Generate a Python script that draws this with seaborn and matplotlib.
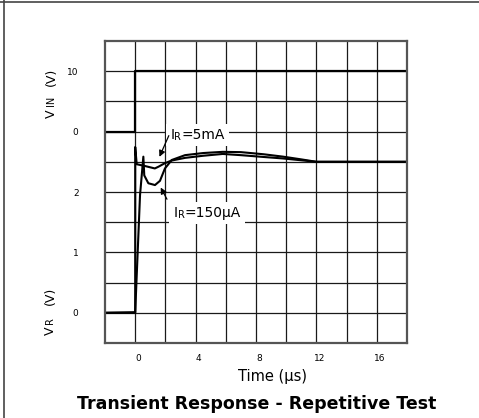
import numpy as np
import pandas as pd
import seaborn as sns
import matplotlib
matplotlib.use("Agg")
from matplotlib import pyplot as plt
from matplotlib import transforms
from matplotlib.lines import Line2D

# grid units: x in microseconds, y in scope divisions (0..10)
t_vin = [-2, 0, 0, 18]
v_vin = [7, 7, 9, 9]

t_5ma = [-2, 0, 0, 0.1, 0.65, 1.3, 1.55, 1.95, 2.4, 3.3, 4.5, 5.8, 7.0, 8.5, 9.8, 11.0, 12.0, 18]
v_5ma = [1, 1, 6.49, 5.92, 5.86, 5.78, 5.84, 5.95, 6.04, 6.13, 6.2, 6.26, 6.22, 6.16, 6.11, 6.05, 6.0, 6.0]

t_150 = [-2, 0, 0.32, 0.54, 0.6, 0.87, 1.31, 1.64, 1.97, 2.42, 3.3, 4.5, 5.8, 7.0, 8.5, 9.8, 11.0, 12.0, 18]
v_150 = [1, 1.02, 4.9, 6.17, 5.55, 5.29, 5.23, 5.37, 5.78, 6.06, 6.22, 6.29, 6.33, 6.32, 6.25, 6.17, 6.08, 6.0, 6.0]

x_ticks = [0, 2, 4, 6, 8, 10, 12, 14, 16]
x_labels = ["0", "", "4", "", "8", "", "12", "", "16"]
y_ticks = [1, 2, 3, 4, 5, 6, 7, 8, 9]
y_labels = ["0", "", "1", "", "2", "", "0", "", "10"]

sns.set_style("white")
plt.rcParams["font.family"] = ["DejaVu Sans"]
plt.rcParams.update({"text.color": "black", "xtick.color": "black", "ytick.color": "black"})

fig = plt.figure(figsize=(4.79, 4.18), dpi=100)
ax = fig.add_axes([105 / 479, 1 - 343 / 418, 302 / 479, 302 / 418])

# traces
sns.lineplot(x=t_vin, y=v_vin, estimator=None, sort=False, color="black", lw=1.6, ax=ax)
sns.lineplot(x=t_150, y=v_150, estimator=None, sort=False, color="black", lw=1.5, ax=ax)
sns.lineplot(x=t_5ma, y=v_5ma, estimator=None, sort=False, color="black", lw=1.5, ax=ax)

ax.set_xlim(-2, 18)
ax.set_ylim(0, 10)
ax.set_xticks(x_ticks)
ax.set_xticklabels(x_labels, fontsize=6.5)
ax.set_yticks(y_ticks)
ax.set_yticklabels(y_labels, fontsize=6.5)
ax.tick_params(axis="x", length=0, pad=8)
ax.tick_params(axis="y", length=0, pad=19)
shift = transforms.ScaledTranslation(3 / 100, 0, fig.dpi_scale_trans)
for lab in ax.get_xticklabels():
    lab.set_transform(lab.get_transform() + shift)
ax.grid(True, color="#1a1a1a", lw=0.9)
ax.set_axisbelow(True)
for sp in ax.spines.values():
    sp.set_color("#555555")
    sp.set_linewidth(1.6)
ax.set_xlabel("")
ax.set_ylabel("")


def pieced_label(x, y, parts):
    # first pass: white boxes only, second pass: the glyphs on top
    box = dict(boxstyle="square,pad=0.3", fc="white", ec="none")
    for with_box in (True, False):
        prev = None
        for txt, fs in parts:
            kw = dict(fontsize=fs, ha="left", zorder=3 if with_box else 4)
            if with_box:
                kw.update(bbox=box, color="white")
            if prev is None:
                prev = ax.text(x, y, txt, va="baseline", **kw)
            else:
                prev = ax.annotate(txt, xy=(1, 0), xycoords=prev, va="bottom", **kw)


pieced_label(2.32, 6.75, [("I", 10), ("R", 7), ("=5mA", 10)])
pieced_label(2.54, 4.17, [("I", 10), ("R", 7), ("=150\u00b5A", 10)])

arrow = dict(arrowstyle="-|>", color="black", lw=0.9, mutation_scale=9)
ax.annotate("", xy=(1.53, 6.08), xytext=(2.3, 6.95), arrowprops=arrow, zorder=5)
ax.annotate("", xy=(1.6, 5.23), xytext=(2.19, 4.68), arrowprops=arrow, zorder=5)


# rotated axis labels built from pieces
def fx(px):
    return px / 479


def fy(py):
    return 1 - py / 418


for txt, px, py, fs in [("V", 51, 113.5, 9), ("IN", 51, 100.5, 7), ("(V)", 51, 77, 9),
                        ("V", 50, 331, 9), ("R", 50, 321, 7), ("(V)", 50, 296, 9)]:
    fig.text(fx(px), fy(py), txt, rotation=90, fontsize=fs, ha="center", va="center")

fig.text(fx(272), fy(377), "Time (\u00b5s)", fontsize=10.5, ha="center", va="center")
fig.text(fx(257), fy(404), "Transient Response - Repetitive Test", fontsize=12.5,
         weight="bold", ha="center", va="center")

# outer frame
fig.add_artist(Line2D([3.5 / 479] * 2, [0, 1], transform=fig.transFigure, color="#444444", lw=1.2))
fig.add_artist(Line2D([0, 1], [1 - 1.5 / 418] * 2, transform=fig.transFigure, color="#444444", lw=1.2))

fig.savefig("out.png", dpi=100)
